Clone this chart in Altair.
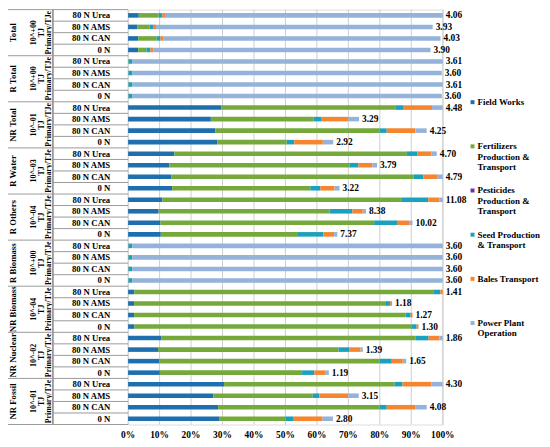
import altair as alt
import pandas as pd

groups = ["Total", "R Total", "NR Total", "R Water", "R Others",
          "R Biomass", "NR Biomass", "NR Nuclear", "NR Fossil"]
exponents = ["10^+00", "10^+00", "10^-01", "10^-03", "10^-04",
             "10^+00", "10^-04", "10^-02", "10^-01"]
unit_label = "TJ"
basis_label = "Primary/TJe"
treatments = ["80 N  Urea", "80 N  AMS", "80 N  CAN", "0 N"]
categories = ["Field Works", "Fertilizers Production & Transport",
              "Pesticides Production & Transport", "Seed Production & Transport",
              "Bales Transport", "Power Plant Operation"]
legend_lines = ["Field Works", "Fertilizers\nProduction &\nTransport",
                "Pesticides\nProduction &\nTransport", "Seed Production\n& Transport",
                "Bales Transport", "Power Plant\nOperation"]
colors = ["#1F6FAE", "#76A93B", "#7030A0", "#1BA1BD", "#F5862F", "#95B3DA"]
x_ticks = [0, 10, 20, 30, 40, 50, 60, 70, 80, 90, 100]
x_tick_labels = ["0%", "10%", "20%", "30%", "40%", "50%", "60%", "70%", "80%", "90%", "100%"]

# share of each row (% of the group's largest row), 4 rows per group
field_works = [3.4, 3.0, 3.2, 3.2,  0.1, 0.1, 0.1, 0.1,  29.7, 26.3, 27.7, 28.3,
               14.7, 13.1, 13.8, 14.0,  10.9, 9.7, 10.3, 10.4,  0.1, 0.1, 0.1, 0.1,
               2.0, 1.9, 1.9, 2.0,  10.5, 9.5, 9.9, 10.1,  30.5, 27.1, 28.6, 29.1]
fertilizers = [6.3, 3.8, 5.9, 2.6,  0.1, 0.1, 0.1, 0.1,  55.4, 32.7, 52.2, 22.1,
               73.9, 57.2, 77.0, 43.9,  75.9, 54.3, 67.9, 43.6,  0.1, 0.1, 0.1, 0.1,
               95.2, 79.8, 86.3, 88.0,  80.8, 57.4, 70.1, 45.2,  54.2, 31.6, 51.3, 20.9]
pesticides = [0.0] * 36
seed = [1.2, 1.1, 1.2, 1.3,  1.2, 1.2, 1.2, 1.2,  2.5, 2.3, 2.3, 2.4,
        3.4, 2.9, 3.0, 3.2,  8.6, 7.3, 7.5, 8.0,  1.1, 1.1, 1.1, 1.1,
        2.0, 1.6, 1.6, 1.7,  4.2, 3.5, 3.8, 3.9,  2.5, 2.1, 2.3, 2.4]
bales = [1.1, 1.0, 1.0, 1.0,  0.0, 0.0, 0.0, 0.0,  9.0, 8.7, 9.1, 9.1,
         4.4, 4.4, 4.4, 4.5,  3.5, 3.3, 3.6, 3.5,  0.0, 0.0, 0.0, 0.0,
         0.8, 0.6, 0.6, 0.6,  3.5, 3.5, 3.5, 3.4,  9.2, 9.2, 9.2, 9.4]
power_plant = [88.0, 87.9, 88.0, 88.0,  98.6, 98.3, 98.6, 98.3,  3.4, 3.4, 3.6, 3.3,
               1.7, 1.5, 1.8, 1.6,  1.1, 1.0, 1.1, 1.0,  98.7, 98.7, 98.7, 98.7,
               0.0, 0.0, 0.0, 0.0,  1.0, 0.7, 1.1, 1.2,  3.6, 3.3, 3.5, 3.3]
totals = [4.06, 3.93, 4.03, 3.90,  3.61, 3.60, 3.61, 3.60,  4.48, 3.29, 4.25, 2.92,
          4.70, 3.79, 4.79, 3.22,  11.08, 8.38, 10.02, 7.37,  3.60, 3.60, 3.60, 3.60,
          1.41, 1.18, 1.27, 1.30,  1.86, 1.39, 1.65, 1.19,  4.30, 3.15, 4.08, 2.80]

series = [field_works, fertilizers, pesticides, seed, bales, power_plant]

seg_rows, row_rows = [], []
for gi, g in enumerate(groups):
    for ti, t in enumerate(treatments):
        idx = gi * 4 + ti
        rid = f"{g}|{t}"
        end = 0.0
        for si, (cat, arr) in enumerate(zip(categories, series)):
            seg_rows.append({"rid": rid, "seg": cat, "ord": si, "value": arr[idx]})
            end += arr[idx]
        row_rows.append({"rid": rid, "treat": t, "ti": ti, "group": g,
                         "exp": exponents[gi] + "\n" + unit_label, "basis": basis_label,
                         "end": end, "label": f"{totals[idx]:.2f}"})
seg_df = pd.DataFrame(seg_rows)
row_df = pd.DataFrame(row_rows)
rid_order = list(row_df["rid"])
legend_df = pd.DataFrame({"seg": categories, "txt": legend_lines})
tick_df = pd.DataFrame({"t": x_ticks, "lab": x_tick_labels})

W, H = 317, 418
FONT = "Liberation Serif"
LINE = "#9A9A9A"

yscale = alt.Scale(domain=rid_order, type="band", paddingInner=0, paddingOuter=0)
xscale = alt.Scale(domain=[0, 100], nice=False, zero=True)
color_scale = alt.Scale(domain=categories, range=colors)


def Y(band=0.5):
    return alt.Y("rid:N", scale=yscale, axis=None, bandPosition=band)


# vertical gridlines and percentage labels, placed through the x scale
ticks = alt.Chart(tick_df)
grid = ticks.mark_rule(color="#CFCFCF", strokeWidth=1).encode(
    x=alt.X("t:Q", scale=xscale, axis=None), y=alt.value(0), y2=alt.value(H))
tick_text = ticks.mark_text(align="center", baseline="middle", font=FONT,
                            fontWeight="bold", fontSize=9.5, color="black").encode(
    x=alt.X("t:Q", scale=xscale, axis=None), y=alt.value(H + 11), text="lab:N")

bars = alt.Chart(seg_df).mark_bar(size=4.6).encode(
    x=alt.X("value:Q", stack="zero", scale=xscale, axis=None),
    y=Y(),
    color=alt.Color("seg:N", scale=color_scale, legend=None),
    order=alt.Order("ord:Q"),
)

base = alt.Chart(row_df)
values = base.mark_text(align="left", baseline="middle", dx=3, font=FONT,
                        fontWeight="bold", fontSize=9.5, color="black").encode(
    x=alt.X("end:Q", scale=xscale, axis=None), y=Y(), text="label:N")

row_labels = base.mark_text(align="right", baseline="middle", font=FONT,
                            fontWeight="bold", fontSize=8.8, color="black").encode(
    x=alt.value(-18), y=Y(), text="treat:N")

mid = base.transform_filter("datum.ti == 1")
group_labels = mid.mark_text(angle=270, align="center", baseline="middle", font=FONT,
                             fontWeight="bold", fontSize=8.8, color="black").encode(
    x=alt.value(-116), y=Y(1.0), text="group:N")
exp_labels = mid.mark_text(angle=270, align="center", baseline="middle", font=FONT,
                           fontWeight="bold", fontSize=8, lineBreak="\n", lineHeight=8,
                           color="black").encode(
    x=alt.value(-94.5), y=Y(1.0), text="exp:N")
basis_labels = mid.mark_text(angle=270, align="center", baseline="middle", font=FONT,
                             fontWeight="bold", fontSize=8, color="black").encode(
    x=alt.value(-79.5), y=Y(1.0), text="basis:N")

group_rules = base.transform_filter("datum.ti == 0").mark_rule(
    color=LINE, strokeWidth=1).encode(x=alt.value(-121), x2=alt.value(0), y=Y(0.0))
bottom_rule = base.transform_filter(f"datum.rid == '{rid_order[-1]}'").mark_rule(
    color=LINE, strokeWidth=1).encode(x=alt.value(-121), x2=alt.value(0), y=Y(1.0))
row_rules = base.transform_filter("datum.ti > 0").mark_rule(
    color=LINE, strokeWidth=1).encode(x=alt.value(-76), x2=alt.value(0), y=Y(0.0))
vline = base.transform_filter("datum.ti == 0").mark_rule(
    color=LINE, strokeWidth=1).encode(x=alt.value(-76), y=alt.value(0), y2=alt.value(H))

main = alt.layer(grid, tick_text, bars, values, row_labels, group_labels, exp_labels,
                 basis_labels, group_rules, bottom_rule, row_rules, vline)

ly = alt.Y("seg:N", scale=alt.Scale(domain=categories, type="point", range=[71, 338]),
           axis=None)
leg = alt.Chart(legend_df)
leg_sq = leg.mark_square(size=16, opacity=1).encode(
    x=alt.value(347), y=ly, color=alt.Color("seg:N", scale=color_scale, legend=None))
leg_txt = leg.mark_text(align="left", baseline="alphabetic", dy=3, lineBreak="\n",
                        lineHeight=10.4, font=FONT, fontWeight="bold", fontSize=9,
                        color="black").encode(x=alt.value(352), y=ly, text="txt:N")
legend = alt.layer(leg_sq, leg_txt)

chart = alt.layer(main, legend).resolve_scale(y="independent").properties(
    width=W, height=H,
    autosize=alt.AutoSizeParams(type="none"),
    padding={"left": 121, "top": 0, "right": 100, "bottom": 18},
).configure_view(stroke=None).configure(background="white")

chart.save("out.html", embed_options={"renderer": "svg", "actions": False})
